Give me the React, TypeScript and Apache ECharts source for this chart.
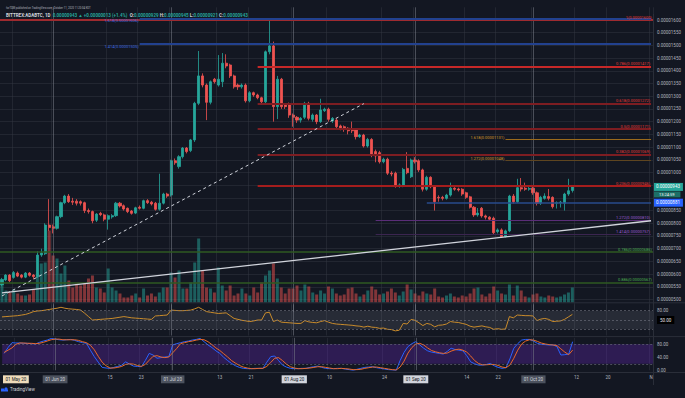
import React, { useEffect, useRef } from 'react';
import * as echarts from 'echarts';

// ---------- data (prices in satoshi, 1e-8 BTC) ----------
const START = Date.UTC(2020, 4, 19);
const DAYS = 166; // May 19 .. Oct 31 2020
const categories: string[] = Array.from({ length: DAYS }, (_, i) =>
  new Date(START + i * 86400000).toISOString().slice(0, 10)
);

const opens = [
  557, 577, 596, 587, 604, 596, 588, 604, 596, 590,
  675, 680, 793, 786, 780, 826, 881, 907, 887, 887,
  885, 881, 850, 846, 812, 839, 833, 816, 825, 830,
  879, 869, 859, 848, 840, 863, 859, 889, 883, 879,
  855, 879, 915, 911, 1046, 1023, 1062, 1096, 1086, 1128,
  1272, 1380, 1344, 1276, 1367, 1344, 1357, 1430, 1423, 1380,
  1344, 1337, 1344, 1282, 1314, 1305, 1294, 1278, 1475, 1498,
  1259, 1367, 1265, 1269, 1226, 1217, 1206, 1217, 1272, 1209,
  1226, 1200, 1243, 1249, 1203, 1206, 1183, 1180, 1174, 1170,
  1167, 1141, 1147, 1104, 1130, 1082, 1078, 1042, 1052, 997,
  997, 947, 947, 1016, 983, 1049, 1046, 1010, 934, 981,
  944, 902, 902, 898, 911, 938, 935, 934, 920, 904,
  863, 833, 859, 829, 824, 820, 767, 774, 747, 770,
  907, 885, 940, 938, 934, 938, 920, 879, 898, 905,
  902, 879, 880, 879, 915, 929,
];
const closes = [
  579, 596, 574, 606, 592, 588, 604, 595, 590, 675,
  683, 793, 783, 780, 826, 881, 907, 885, 883, 879,
  879, 850, 846, 810, 836, 834, 816, 830, 830, 879,
  868, 856, 846, 839, 861, 859, 889, 881, 876, 855,
  879, 915, 907, 1046, 1038, 1062, 1096, 1082, 1128, 1272,
  1380, 1344, 1276, 1357, 1357, 1367, 1430, 1419, 1380, 1337,
  1337, 1344, 1282, 1314, 1305, 1294, 1278, 1475, 1498, 1259,
  1367, 1259, 1259, 1226, 1217, 1206, 1213, 1272, 1213, 1226,
  1200, 1246, 1249, 1209, 1213, 1180, 1174, 1170, 1164, 1164,
  1141, 1147, 1104, 1130, 1069, 1065, 1042, 1052, 997, 994,
  947, 951, 1012, 999, 1049, 1042, 1010, 934, 981, 944,
  885, 900, 898, 911, 938, 934, 931, 915, 902, 863,
  833, 840, 829, 824, 816, 763, 774, 747, 770, 907,
  885, 940, 935, 934, 937, 920, 879, 902, 907, 898,
  865, 881, 883, 915, 928, 943,
];
const lows = [
  552, 572, 568, 582, 588, 583, 584, 590, 580, 585,
  668, 675, 770, 760, 775, 820, 875, 880, 872, 870,
  870, 840, 838, 800, 805, 828, 808, 775, 818, 825,
  862, 850, 840, 834, 836, 854, 855, 876, 870, 850,
  850, 874, 900, 905, 1030, 1015, 1055, 1075, 1080, 1120,
  1265, 1335, 1206, 1268, 1350, 1338, 1336, 1410, 1372, 1330,
  1325, 1330, 1275, 1276, 1298, 1288, 1270, 1272, 1465, 1200,
  1210, 1250, 1250, 1215, 1180, 1195, 1196, 1210, 1205, 1200,
  1190, 1195, 1238, 1200, 1195, 1172, 1166, 1160, 1150, 1155,
  1130, 1136, 1098, 1098, 1060, 1040, 1035, 1036, 990, 985,
  940, 940, 942, 993, 978, 1035, 1002, 925, 928, 938,
  850, 885, 890, 893, 905, 928, 925, 908, 896, 858,
  825, 826, 822, 815, 810, 755, 760, 742, 744, 765,
  878, 880, 925, 928, 928, 912, 870, 872, 893, 890,
  858, 858, 862, 850, 908, 921,
];
const highs = [
  585, 600, 600, 612, 610, 600, 608, 608, 600, 690,
  700, 800, 895, 795, 830, 885, 912, 915, 900, 895,
  890, 885, 858, 850, 840, 845, 838, 835, 836, 884,
  884, 874, 862, 852, 865, 870, 893, 895, 888, 884,
  995, 920, 920, 1050, 1055, 1068, 1100, 1100, 1132, 1278,
  1478, 1390, 1350, 1362, 1372, 1462, 1470, 1465, 1428, 1385,
  1350, 1350, 1350, 1320, 1318, 1310, 1298, 1480, 1602, 1515,
  1380, 1372, 1270, 1275, 1232, 1222, 1218, 1278, 1278, 1232,
  1230, 1290, 1255, 1255, 1218, 1212, 1188, 1185, 1178, 1200,
  1172, 1152, 1152, 1136, 1135, 1090, 1085, 1058, 1058, 1005,
  1003, 957, 1018, 1080, 1055, 1060, 1052, 1015, 987, 985,
  950, 910, 908, 916, 960, 942, 940, 938, 924, 908,
  868, 860, 864, 834, 828, 826, 780, 780, 775, 912,
  915, 975, 978, 960, 945, 945, 925, 908, 918, 935,
  906, 886, 888, 920, 975, 945,
];
const volumes = [
  17, 12, 10, 13, 9, 7, 7, 8, 13, 29,
  39, 40, 72, 47, 44, 29, 37, 22, 15, 19,
  17, 19, 24, 27, 15, 14, 10, 34, 15, 12,
  9, 5, 5, 7, 9, 5, 14, 7, 9, 6,
  10, 15, 15, 30, 25, 32, 14, 14, 20, 40,
  64, 32, 15, 14, 10, 35, 17, 12, 17, 7,
  9, 14, 9, 7, 15, 10, 20, 27, 32, 39,
  24, 15, 9, 14, 14, 17, 12, 18, 16, 10,
  8, 12, 9, 16, 14, 9, 7, 8, 14, 15,
  9, 6, 8, 12, 16, 13, 8, 9, 11, 14,
  10, 7, 11, 18, 13, 9, 7, 11, 9, 8,
  14, 6, 5, 7, 9, 6, 5, 7, 6, 9,
  14, 15, 8, 6, 9, 16, 12, 9, 8, 18,
  7, 17, 12, 6, 5, 8, 9, 6, 5, 7,
  6, 5, 6, 8, 10, 15,
];
const rsi = [
  60, 61, 62, 63, 64, 66, 68, 72, 77, 79,
  80, 82, 84, 86, 88, 91, 88, 86, 85, 84,
  82, 72, 61, 50, 51, 52, 53, 54, 55, 57,
  59, 61, 59, 57, 56, 55, 54, 53, 52, 63,
  64, 65, 66, 82, 81, 80, 80, 81, 82, 86,
  91, 84, 77, 75, 73, 71, 72, 73, 64, 55,
  52, 49, 47, 45, 47, 50, 50, 73, 75, 45,
  50, 43, 42, 41, 40, 39, 39, 48, 44, 42,
  41, 45, 48, 43, 39, 37, 36, 35, 34, 33,
  31, 30, 27, 30, 27, 26, 23, 24, 20, 19,
  15, 17, 39, 37, 52, 49, 41, 32, 39, 36,
  28, 33, 34, 37, 45, 43, 42, 39, 36, 30,
  27, 29, 31, 28, 26, 20, 22, 20, 21, 61,
  57, 66, 65, 64, 64, 63, 48, 53, 55, 52,
  45, 46, 47, 52, 60, 68,
];
const stochK = [
  52, 70, 85, 84, 84, 83, 83, 82, 81, 86,
  90, 93, 98, 96, 94, 93, 94, 95, 92, 88,
  85, 83, 62, 42, 25, 9, 7, 6, 9, 12,
  16, 26, 19, 13, 12, 11, 30, 52, 47, 37,
  39, 41, 42, 78, 82, 85, 88, 90, 93, 95,
  98, 88, 78, 70, 60, 52, 40, 30, 21, 14,
  9, 6, 5, 5, 6, 6, 6, 25, 42, 44,
  30, 16, 10, 6, 5, 5, 6, 6, 9, 11,
  13, 9, 6, 5, 5, 6, 6, 4, 2, 0,
  3, 6, 9, 10, 11, 8, 6, 4, 2, 1,
  0, 30, 55, 73, 82, 88, 78, 68, 60, 56,
  54, 52, 50, 58, 68, 64, 62, 60, 45, 26,
  20, 16, 16, 18, 21, 14, 9, 6, 8, 35,
  68, 82, 93, 95, 95, 90, 83, 80, 79, 78,
  78, 73, 47, 48, 50, 88,
];
const stochD = [
  55, 62, 69, 80, 84, 84, 83, 83, 82, 83,
  86, 90, 94, 96, 96, 94, 94, 94, 94, 92,
  88, 85, 77, 63, 43, 25, 14, 7, 7, 9,
  12, 18, 20, 19, 15, 12, 18, 31, 43, 45,
  41, 39, 41, 54, 67, 82, 85, 88, 90, 93,
  95, 94, 88, 79, 69, 61, 51, 41, 30, 22,
  15, 10, 7, 5, 5, 6, 6, 12, 24, 37,
  39, 30, 19, 11, 7, 5, 5, 6, 7, 9,
  11, 11, 9, 7, 5, 5, 6, 5, 4, 2,
  2, 3, 6, 8, 10, 10, 8, 6, 4, 2,
  1, 10, 28, 53, 70, 81, 83, 78, 69, 61,
  57, 54, 52, 53, 59, 63, 65, 62, 56, 44,
  30, 21, 17, 17, 18, 18, 15, 10, 8, 16,
  37, 62, 81, 90, 94, 93, 89, 84, 81, 79,
  78, 76, 66, 56, 48, 62,
];

// drawings
const LAST_DAY = '2020-10-31';
const redFibPrices = [1600, 1417, 1272, 1171, 1069, 946];
const redFibRatios = ['1', '0.786', '0.618', '0.5', '0.382', '0.236'];
const redFibStart = '2020-07-23';
const blueExtPrices = [1606, 1505];
const blueExtRatios = ['1.618', '1.414'];
const blueExtStart = '2020-06-23';
const orangeExtPrices = [1131, 1048];
const orangeExtRatios = ['1.618', '1.272'];
const orangeExtStart = '2020-09-24';
const purpleExtPrices = [810, 757];
const purpleExtRatios = ['1.272', '1.414'];
const purpleExtStart = '2020-08-22';
const greenFibPrices = [686, 567];
const greenFibRatios = ['0.786', '0.886'];
const supportPrice = 881;
const supportStart = '2020-09-04';
const lastPrice = 943;
const countdown = '13:24:59';
const trendSolid = [['2020-05-19', 526], ['2020-10-31', 810]];
const trendDashed = [['2020-05-19', 514], ['2020-08-19', 1271]];
const monthLines = ['2020-06-01', '2020-07-01', '2020-08-01', '2020-09-01', '2020-10-01'];
const timeLabelDates = ['2020-05-22', '2020-06-01', '2020-06-15', '2020-06-23', '2020-07-01', '2020-07-13', '2020-07-21', '2020-08-01', '2020-08-10', '2020-08-24', '2020-09-01', '2020-09-14', '2020-09-22', '2020-10-01', '2020-10-12', '2020-10-20', '2020-10-31'];
const timeLabelTexts = ['01 May 20', '01 Jun 20', '15', '23', '01 Jul 20', '13', '21', '01 Aug 20', '10', '24', '01 Sep 20', '14', '22', '01 Oct 20', '12', '20', 'N'];
const timeLabelKinds = ['beige', 'grey', 'p', 'p', 'grey', 'p', 'p', 'light', 'p', 'p', 'light', 'p', 'p', 'grey', 'p', 'p', 'p'];

// ---------- styles ----------
const BG = '#131722';
const FONT = 'Roboto, "Liberation Sans", sans-serif';
const TXT = '#b2b5be';
const UP = '#26a69a';
const DOWN = '#ef5350';
const GRIDC = 'rgba(54,58,69,0.45)';
const FS = 4.5;

const fmt8 = (v: number) => (v / 1e8).toFixed(8);

export default function App() {
  const ref = useRef<HTMLDivElement>(null);
  useEffect(() => {
    const chart = echarts.init(ref.current!, null, { renderer: 'svg' });

    const labelIdx = new Map<number, number>();
    timeLabelDates.forEach((d, k) => labelIdx.set(categories.indexOf(d), k));
    const showIdx = (i: number) => labelIdx.has(i);

    const seg = (start: string, price: number, color: string, width: number, text: string | null, pos: string, labelColor: string, vAlign?: string) => [
      {
        coord: [start, price],
        lineStyle: { color, width, type: 'solid' },
        label: text
          ? { show: true, formatter: text, position: pos, color: labelColor, fontSize: 4, fontFamily: FONT, distance: 1, ...(vAlign ? { verticalAlign: vAlign } : {}) }
          : { show: false },
      },
      { coord: [LAST_DAY, price] },
    ];
    const full = (price: number, color: string, width: number, text: string, labelColor: string) => ({
      yAxis: price,
      lineStyle: { color, width, type: 'solid' },
      label: { show: true, formatter: text, position: 'insideEndTop', color: labelColor, fontSize: 4, fontFamily: FONT, distance: 1 },
    });

    const mainMarks: any[] = [];
    monthLines.forEach((d) =>
      mainMarks.push({ xAxis: d, lineStyle: { color: 'rgba(120,123,134,0.55)', width: 1, type: 'solid' }, label: { show: false } })
    );
    redFibPrices.forEach((p, k) => {
      const text = `${redFibRatios[k]}(${fmt8(p)})`;
      const color = k === 0 ? '#9e2a2f' : k === 1 ? '#c62828' : k === 5 ? '#a51d1d' : '#7d1d22';
      if (k === 0) mainMarks.push(full(p, color, 2, text, '#e53935'));
      else mainMarks.push(seg(redFibStart, p, color, 2, text, 'insideEndTop', '#e53935'));
    });
    blueExtPrices.forEach((p, k) =>
      mainMarks.push(seg(blueExtStart, p, '#22418f', 2, `${blueExtRatios[k]}(${fmt8(p)})`, 'start', '#3d6be0', 'top'))
    );
    orangeExtPrices.forEach((p, k) =>
      mainMarks.push(seg(orangeExtStart, p, k === 0 ? '#9a6a1c' : '#5e4520', 1, `${orangeExtRatios[k]}(${fmt8(p)})`, 'start', '#d49a2a', 'bottom'))
    );
    purpleExtPrices.forEach((p, k) =>
      mainMarks.push(seg(purpleExtStart, p, k === 0 ? '#5a2d78' : '#3b2550', 1, `${purpleExtRatios[k]}(${fmt8(p)})`, 'insideEndTop', '#9c5bd0'))
    );
    greenFibPrices.forEach((p, k) =>
      mainMarks.push(full(p, '#2f5a22', 1.5, `${greenFibRatios[k]}(${fmt8(p)})`, '#4caf50'))
    );
    mainMarks.push(seg(supportStart, supportPrice, '#284b8c', 1.5, null, 'end', '#fff'));
    mainMarks.push([
      { coord: trendSolid[0], lineStyle: { color: '#d1d4dc', width: 1.3, type: 'solid' }, label: { show: false } },
      { coord: trendSolid[1] },
    ]);
    mainMarks.push([
      { coord: trendDashed[0], lineStyle: { color: '#d1d4dc', width: 1, type: [3, 3] }, label: { show: false } },
      { coord: trendDashed[1] },
    ]);
    mainMarks.push({
      yAxis: lastPrice,
      lineStyle: { color: 'transparent', width: 0 },
      label: {
        show: true, position: 'end', distance: 0, padding: [7, 0, 0, 0],
        formatter: `{a|${fmt8(lastPrice)}}\n{b|${countdown}}`,
        rich: {
          a: { backgroundColor: UP, color: '#fff', fontSize: FS, fontFamily: FONT, padding: [1.5, 3, 1.5, 3], lineHeight: 8 },
          b: { backgroundColor: '#1c6f67', color: '#fff', fontSize: 4, fontFamily: FONT, padding: [1, 6, 1, 6], lineHeight: 7 },
        },
      },
    });
    mainMarks.push({
      yAxis: supportPrice,
      lineStyle: { color: 'transparent', width: 0 },
      label: {
        show: true, position: 'end', distance: 0, formatter: fmt8(supportPrice),
        backgroundColor: '#2962ff', color: '#fff', fontSize: FS, fontFamily: FONT, padding: [1.5, 3, 1.5, 3],
      },
    });

    const monthMarksSub = monthLines.map((d) => ({
      xAxis: d, lineStyle: { color: 'rgba(120,123,134,0.55)', width: 1, type: 'solid' }, label: { show: false },
    }));
    const bandLine = (v: number) => ({ yAxis: v, lineStyle: { color: 'rgba(120,123,134,0.7)', width: 0.8, type: [2, 2] }, label: { show: false } });

    const xBase = (gi: number, showLabels: boolean) => ({
      type: 'category',
      gridIndex: gi,
      data: categories,
      boundaryGap: true,
      axisLine: { show: false },
      axisTick: { show: false, alignWithLabel: true, interval: (i: number) => showIdx(i) },
      splitLine: { show: gi !== 1, interval: (i: number) => showIdx(i), lineStyle: { color: GRIDC, width: 1 } },
      axisLabel: showLabels
        ? {
            show: true,
            interval: (i: number) => showIdx(i),
            margin: 5,
            formatter: (_v: string, i: number) => {
              const k = labelIdx.get(i);
              if (k === undefined) return '';
              return `{${timeLabelKinds[k]}|${timeLabelTexts[k]}}`;
            },
            rich: {
              p: { color: TXT, fontSize: FS, fontFamily: FONT },
              grey: { color: '#d1d4dc', backgroundColor: '#4c525e', fontSize: FS, fontFamily: FONT, padding: [1.5, 2.5] },
              light: { color: '#131722', backgroundColor: '#d1d4dc', fontSize: FS, fontFamily: FONT, padding: [1.5, 2.5] },
              beige: { color: '#131722', backgroundColor: '#efdcbb', fontSize: FS, fontFamily: FONT, padding: [1.5, 2.5] },
            },
          }
        : { show: false },
    });

    const option: any = {
      animation: false,
      backgroundColor: BG,
      textStyle: { fontFamily: FONT },
      title: [
        {
          left: 1, top: 1,
          text: 'forTOM published on TradingView.com, October 11, 2020 11:20:04 EDT',
          textStyle: { color: TXT, fontSize: 2.7, fontWeight: 'normal', fontFamily: FONT },
        },
        {
          left: 1, top: 7.5,
          text: `{w|BITTREX:ADABTC, 1D  }{g|${fmt8(lastPrice)} ▲ +0.00000013 (+1.4%)}{w|  O:}{g|0.00000929}{w| H:}{g|0.00000945}{w| L:}{g|0.00000921}{w| C:}{g|${fmt8(lastPrice)}}`,
          textStyle: {
            rich: {
              w: { color: '#d1d4dc', fontSize: FS, fontFamily: FONT },
              g: { color: UP, fontSize: FS, fontFamily: FONT },
            },
          },
        },
      ],
      grid: [
        { left: 0, top: 7.3, width: 653, height: 304.9 },
        { left: 0, top: 230.5, width: 653, height: 72 },
        { left: 0, top: 304.5, width: 653, height: 31 },
        { left: 0, top: 337.8, width: 653, height: 32.5 },
      ],
      xAxis: [xBase(0, false), xBase(1, false), xBase(2, false), xBase(3, true)],
      yAxis: [
        {
          type: 'value', gridIndex: 0, position: 'right', min: 450, max: 1650, interval: 50,
          axisLine: { show: false }, axisTick: { show: false },
          splitLine: { show: true, showMinLine: false, showMaxLine: false, lineStyle: { color: GRIDC, width: 1 } },
          axisLabel: {
            show: true, showMinLabel: false, showMaxLabel: false, margin: 4, color: TXT, fontSize: FS, fontFamily: FONT,
            formatter: (v: number) => (v < 500 || v > 1600 || v === 900 || v === 950 ? '' : fmt8(v)),
          },
        },
        { type: 'value', gridIndex: 1, min: 0, max: 72, show: false, splitLine: { show: false } },
        {
          type: 'value', gridIndex: 2, position: 'right', min: 0, max: 100, interval: 10,
          axisLine: { show: false }, axisTick: { show: false }, splitLine: { show: false },
          axisLabel: {
            show: true, margin: 4, color: TXT, fontSize: FS, fontFamily: FONT,
            formatter: (v: number) => (v === 80 ? '80.00' : v === 50 ? '{b|50.00}' : ''),
            rich: { b: { backgroundColor: '#000000', color: '#e0e3eb', fontSize: FS, fontFamily: FONT, padding: [1.5, 3] } },
          },
        },
        {
          type: 'value', gridIndex: 3, position: 'right', min: 0, max: 100, interval: 20,
          axisLine: { show: false }, axisTick: { show: false }, splitLine: { show: false },
          axisLabel: {
            show: true, margin: 4, color: TXT, fontSize: FS, fontFamily: FONT,
            formatter: (v: number) => (v === 80 || v === 40 || v === 0 ? v.toFixed(2) : ''),
          },
        },
      ],
      series: [
        {
          type: 'bar', name: 'Volume', xAxisIndex: 1, yAxisIndex: 1, barWidth: 3, z: 1,
          data: volumes.map((v, i) => ({
            value: v,
            itemStyle: { color: closes[i] >= opens[i] ? 'rgba(38,166,154,0.5)' : 'rgba(239,83,80,0.5)' },
          })),
        },
        {
          type: 'candlestick', name: 'ADABTC', xAxisIndex: 0, yAxisIndex: 0, barWidth: 2.6, z: 3,
          data: opens.map((o, i) => [o, closes[i], lows[i], highs[i]]),
          itemStyle: { color: UP, color0: DOWN, borderColor: UP, borderColor0: DOWN, borderWidth: 0.8 },
          markLine: { symbol: ['none', 'none'], silent: true, animation: false, label: { show: false }, data: mainMarks },
        },
        {
          type: 'line', name: 'RSI', xAxisIndex: 2, yAxisIndex: 2, data: rsi, symbol: 'none',
          lineStyle: { color: '#c98b2b', width: 1 }, z: 3,
          markArea: { silent: true, itemStyle: { color: 'rgba(120,123,134,0.2)' }, data: [[{ yAxis: 20 }, { yAxis: 80 }]] },
          markLine: { symbol: ['none', 'none'], silent: true, label: { show: false }, data: [bandLine(80), bandLine(50), bandLine(20), ...monthMarksSub] },
        },
        {
          type: 'line', name: '%K', xAxisIndex: 3, yAxisIndex: 3, data: stochK, symbol: 'none',
          lineStyle: { color: '#2962ff', width: 1 }, z: 3,
          markArea: { silent: true, itemStyle: { color: 'rgba(110,40,200,0.3)' }, data: [[{ yAxis: 20 }, { yAxis: 80 }]] },
          markLine: { symbol: ['none', 'none'], silent: true, label: { show: false }, data: [bandLine(80), bandLine(20), ...monthMarksSub] },
        },
        {
          type: 'line', name: '%D', xAxisIndex: 3, yAxisIndex: 3, data: stochD, symbol: 'none',
          lineStyle: { color: '#e8682a', width: 1 }, z: 3,
        },
      ],
      graphic: [
        { type: 'line', shape: { x1: 0, y1: 302.8, x2: 685, y2: 302.8 }, style: { stroke: '#2a2e39', lineWidth: 1 }, z: 10 },
        { type: 'line', shape: { x1: 0, y1: 336.6, x2: 685, y2: 336.6 }, style: { stroke: '#2a2e39', lineWidth: 1 }, z: 10 },
        { type: 'line', shape: { x1: 0, y1: 372.5, x2: 685, y2: 372.5 }, style: { stroke: '#2a2e39', lineWidth: 1 }, z: 10 },
        { type: 'line', shape: { x1: 653.5, y1: 14, x2: 653.5, y2: 385 }, style: { stroke: '#2a2e39', lineWidth: 1 }, z: 10 },
        {
          type: 'group', left: 1, top: 387,
          children: [
            { type: 'rect', shape: { x: 0, y: 2, width: 3, height: 3 }, style: { fill: '#2962ff' } },
            { type: 'circle', shape: { cx: 5, cy: 2.5, r: 1.6 }, style: { fill: '#2962ff' } },
            { type: 'rect', shape: { x: 3, y: 3, width: 4, height: 2 }, style: { fill: '#2962ff' } },
            { type: 'text', x: 9, y: 0.5, style: { text: 'TradingView', fill: '#d1d4dc', fontSize: 4.5, fontFamily: FONT } },
          ],
        },
      ],
    };

    chart.setOption(option);
    return () => chart.dispose();
  }, []);

  return (
    <div
      ref={ref}
      style={{ position: 'fixed', left: 0, top: 0, width: 685, height: 398, background: BG }}
    />
  );
}
